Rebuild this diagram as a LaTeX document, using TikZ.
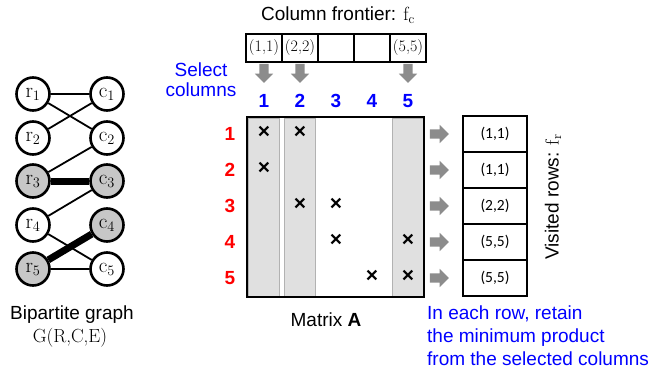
\documentclass[tikz,border=0pt]{standalone}
\usepackage{amsmath}
\usepackage{fontspec}
\newfontfamily\arialf{Liberation Sans}
\newfontfamily\calibf{Carlito}
\usepackage{tikz}
\usetikzlibrary{shapes.arrows,positioning,backgrounds}

\begin{document}
\begin{tikzpicture}[x=1pt, y=-1pt,
  every node/.style={font=\arialf\fontsize{19}{21}\selectfont},
  gnode/.style={circle, draw, fill=white, line width=2.6pt, minimum size=33pt,
                inner sep=0pt, font=\rmfamily\fontsize{21}{23}\selectfont},
  gshade/.style={gnode, fill=black!22},
  fcell/.style={draw, line width=1.2pt, minimum width=36pt, minimum height=28pt,
                inner sep=0pt, font=\rmfamily\fontsize{16}{18}\selectfont},
  rcell/.style={draw, line width=1.2pt, minimum width=64pt, minimum height=36pt,
                inner sep=0pt, font=\calibf\fontsize{15.5}{18}\selectfont},
  blk/.style={single arrow, fill=gray!90, draw=none, inner sep=4.5pt,
              minimum width=0pt, single arrow head extend=4.5pt,
              single arrow head indent=0pt},
  xent/.style={inner sep=0pt, font=\arialf\bfseries\fontsize{21}{21}\selectfont}]

\useasboundingbox (0,0) rectangle (659,370);

%% ── Scale: 1pt = 1px of the reference ─────────────────────────────────────────
% column x: 264 + 36(j-1),  row y: 134 + 36(i-1)

%% ── Bipartite graph ──────────────────────────────────────────────────────────
\foreach \i/\yy in {1/94, 2/138, 4/225}
  \node[gnode] (r\i) at (33,\yy) {$\mathrm{r}_{\i}$};
\foreach \i/\yy in {3/181, 5/269}
  \node[gshade] (r\i) at (33,\yy) {$\mathrm{r}_{\i}$};
\foreach \i/\yy in {1/94, 2/138, 5/269}
  \node[gnode] (c\i) at (107,\yy) {$\mathrm{c}_{\i}$};
\foreach \i/\yy in {3/181, 4/225}
  \node[gshade] (c\i) at (107,\yy) {$\mathrm{c}_{\i}$};

\begin{scope}[on background layer]
  \foreach \a/\b in {1/1, 1/2, 2/1, 3/2, 4/3, 4/5, 5/5}
    \draw[line width=1.8pt] (r\a) -- (c\b);
  \draw[line width=7pt] (r3) -- (c3);
  \draw[line width=7pt] (r5) -- (c4);
\end{scope}

\node (bglab) at (72,315) {Bipartite graph};
\node[font=\rmfamily\fontsize{19}{21}\selectfont] (gset) at (70,338) {G(R,C,E)};

%% ── Column frontier ──────────────────────────────────────────────────────────
\node (ftitle) at (338,15) {Column frontier: $\mathrm{f}_\mathrm{c}$};
\foreach \j/\lab in {1/{(1,1)}, 2/{(2,2)}, 3/{}, 4/{}, 5/{(5,5)}}
  \node[fcell] (f\j) at ({264+36*(\j-1)},48) {\lab};

% selected columns: 1, 2, 5
\foreach \j in {1,2,5}
  \node[blk, minimum height=19pt, shape border rotate=270,
        below=1pt of f\j] (d\j) {};

\node[blue, align=center, font=\arialf\fontsize{19}{20}\selectfont] (sel) at (201,80)
  {Select\\columns};

%% ── Matrix A ─────────────────────────────────────────────────────────────────
\foreach \j in {1,2,5}
  \filldraw[fill=black!12, draw=black!30, line width=0.8pt]
    ({264+36*(\j-1)-15.5},118) rectangle ({264+36*(\j-1)+15.5},296);
\draw[line width=2pt] (247,117) rectangle (424,297);

\foreach \j in {1,...,5}
  \node[blue, font=\arialf\bfseries\fontsize{19}{21}\selectfont] (cl\j)
    at ({264+36*(\j-1)},101) {\j};
\foreach \i in {1,...,5}
  \node[red, font=\arialf\bfseries\fontsize{19}{21}\selectfont] (rl\i)
    at (230,{134+36*(\i-1)}) {\i};

% nonzeros
\foreach \i/\j in {1/1, 1/2, 2/1, 3/2, 3/3, 4/3, 4/5, 5/4, 5/5}
  \node[xent] (x\i\j) at ({264+36*(\j-1)},{132+36*(\i-1)}) {×};

\node (mlab) at (326,320) {Matrix \textbf{A}};

%% ── Visited rows ─────────────────────────────────────────────────────────────
\foreach \i/\lab in {1/{(1,1)}, 2/{(1,1)}, 3/{(2,2)}, 4/{(5,5)}, 5/{(5,5)}}{
  \node[blk, minimum height=19pt] (a\i) at (437,{134+36*(\i-1)}) {};
  \node[rcell] (v\i) at (495,{134+36*(\i-1)}) {\lab};
}

\node[rotate=90] (vtitle) at (553,197) {Visited rows: $\mathrm{f}_\mathrm{r}$};

\node[blue, align=left, anchor=north west, inner sep=0pt,
      font=\arialf\fontsize{19}{23}\selectfont] (note) at (427,306)
  {In each row, retain\\the minimum product\\from the selected columns};

\end{tikzpicture}
\end{document}
